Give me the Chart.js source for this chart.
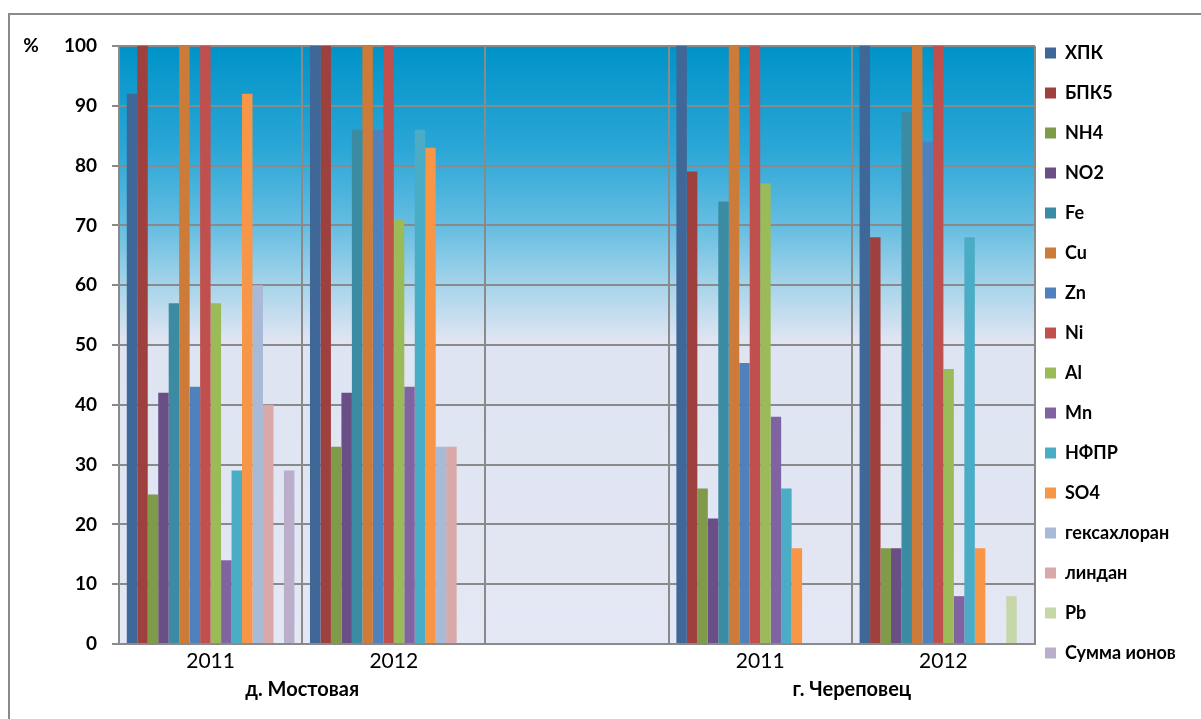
<!DOCTYPE html>
<html>
<head>
<meta charset="utf-8">
<script src="https://cdn.jsdelivr.net/npm/chart.js@4.4.0/dist/chart.umd.min.js"></script>
<style>
  html, body { margin: 0; padding: 0; background: #fff; }
  #wrap { position: relative; width: 1201px; height: 719px; }
</style>
</head>
<body>
<div id="wrap"><canvas id="chart"></canvas></div>
<script>
// Categories on the x axis (middle one is an empty spacer)
const categories = ['2011', '2012', '', '2011', '2012'];
const groupLabels = ['д. Мостовая', 'г. Череповец'];
const groupSpans = [[0, 1], [3, 4]];

// Series (values in %, per category)
const hpk     = [92, 100, null, 100, 100];
const bpk5    = [100, 100, null, 79, 68];
const nh4     = [25, 33, null, 26, 16];
const no2     = [42, 42, null, 21, 16];
const fe      = [57, 86, null, 74, 89];
const cu      = [100, 100, null, 100, 100];
const zn      = [43, 86, null, 47, 84];
const ni      = [100, 100, null, 100, 100];
const al      = [57, 71, null, 77, 46];
const mn      = [14, 43, null, 38, 8];
const nfpr    = [29, 86, null, 26, 68];
const so4     = [92, 83, null, 16, 16];
const hexa    = [60, 33, null, 0, 0];
const lindan  = [40, 33, null, 0, 0];
const pb      = [0, 0, null, 0, 8];
const ionsSum = [29, 0, null, 0, 0];

const seriesNames = ['ХПК', 'БПК5', 'NH4', 'NO2', 'Fe', 'Cu', 'Zn', 'Ni', 'Al', 'Mn',
    'НФПР', 'SO4', 'гексахлоран', 'линдан', 'Pb', 'Сумма ионов'];
const seriesValues = [hpk, bpk5, nh4, no2, fe, cu, zn, ni, al, mn,
    nfpr, so4, hexa, lindan, pb, ionsSum];
const seriesColors = ['#3F6797', '#9E413E', '#7F9A48', '#694F86', '#3B8BA3', '#CC7B38',
    '#4F81BD', '#C0504D', '#9BBB59', '#8064A2', '#4BACC6', '#F79646',
    '#A9BAD8', '#D8A9A8', '#C5D7A9', '#B9AFCB'];

const GRID = '#8a8a8a';
const FONT = 'Lato, "Open Sans", sans-serif';
Chart.defaults.font.family = FONT;
Chart.defaults.color = '#000';

// background, frame, "%" label and group labels under the years
const decor = {
    id: 'decor',
    beforeDraw(chart) {
        const { ctx, chartArea: a } = chart;
        ctx.save();
        ctx.strokeStyle = GRID;
        ctx.lineWidth = 2;
        ctx.strokeRect(9, 14, 1400, 900);
        const g = ctx.createLinearGradient(0, a.top, 0, a.bottom);
        g.addColorStop(0, '#0093c8');
        g.addColorStop(0.17, '#2aa6d6');
        g.addColorStop(0.31, '#6bbfe2');
        g.addColorStop(0.40, '#a6d4ea');
        g.addColorStop(0.49, '#dee4f2');
        g.addColorStop(1, '#e4e7f4');
        ctx.fillStyle = g;
        ctx.fillRect(a.left, a.top, a.width, a.height);
        ctx.restore();
    },
    afterLayout(chart) {
        // pull the legend closer to the plot
        chart.legend.left -= 12;
    },
    afterDraw(chart) {
        const { ctx, chartArea: a } = chart;
        const x = chart.scales.x;
        const y = chart.scales.y;
        ctx.save();
        ctx.fillStyle = '#000';
        ctx.textAlign = 'center';
        ctx.textBaseline = 'middle';
        ctx.font = 'bold 19px ' + FONT;
        ctx.fillText('%', 31, y.getPixelForValue(100));
        ctx.font = 'bold 20px ' + FONT;
        groupSpans.forEach((sp, i) => {
            const cx = (x.getPixelForValue(sp[0]) + x.getPixelForValue(sp[1])) / 2;
            ctx.fillText(groupLabels[i], cx, a.bottom + 46);
        });
        ctx.restore();
    }
};

new Chart(document.getElementById('chart'), {
    type: 'bar',
    data: {
        labels: categories,
        datasets: seriesNames.map((name, i) => ({
            label: name,
            data: seriesValues[i],
            backgroundColor: seriesColors[i],
            borderWidth: 0,
            categoryPercentage: 0.915,
            barPercentage: 1
        }))
    },
    options: {
        responsive: true,
        maintainAspectRatio: false,
        animation: false,
        devicePixelRatio: 1,
        layout: { padding: { top: 0, left: 0, right: 26, bottom: 13 } },
        plugins: {
            title: {
                display: true,
                text: '',
                padding: { top: 36, bottom: 0 },
                font: { size: 10, lineHeight: 1 }
            },
            tooltip: { enabled: false },
            legend: {
                position: 'right',
                align: 'center',
                maxWidth: 140,
                labels: {
                    boxWidth: 11,
                    boxHeight: 11,
                    padding: 22,
                    color: '#000',
                    font: { size: 18, weight: 'bold' }
                }
            }
        },
        scales: {
            x: {
                grid: { color: GRID, lineWidth: 2, offset: true, drawTicks: false },
                border: { color: GRID, width: 2 },
                ticks: { padding: 5, font: { size: 21 }, color: '#000', maxRotation: 0 },
                afterFit: s => { s.height = 62; }
            },
            y: {
                min: 0,
                max: 100,
                ticks: { stepSize: 10, padding: 15, color: '#000', font: { size: 19, weight: 'bold' } },
                grid: { color: GRID, lineWidth: 2, tickLength: 7 },
                border: { color: GRID, width: 2 },
                afterFit: s => { s.width = 119; }
            }
        }
    },
    plugins: [decor]
});
</script>
</body>
</html>
